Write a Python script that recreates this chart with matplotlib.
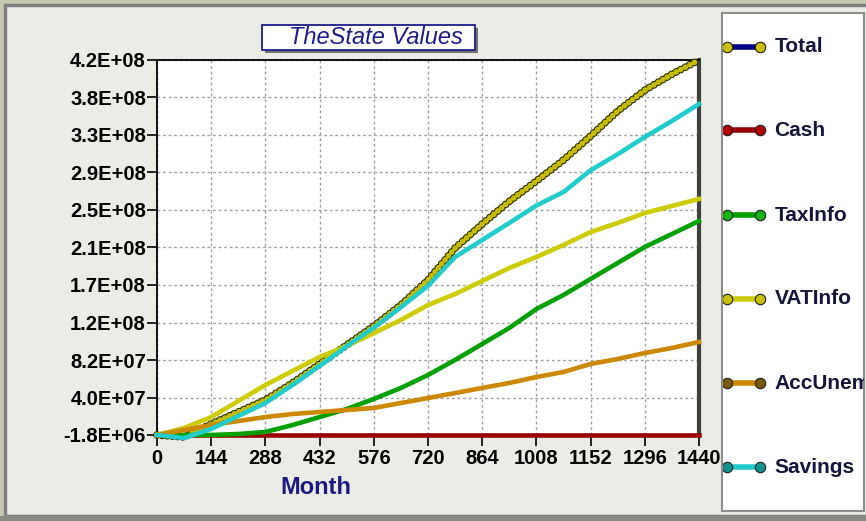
import numpy as np
import matplotlib
matplotlib.use('Agg')
import matplotlib.pyplot as plt
from matplotlib.patches import Rectangle

plt.rcParams['font.family'] = ['Liberation Sans', 'DejaVu Sans']
plt.rcParams['lines.scale_dashes'] = False

# data, values in millions
months = [0, 72, 144, 216, 288, 360, 432, 504, 576, 648, 720,
          792, 864, 936, 1008, 1080, 1152, 1224, 1296, 1368, 1440]
total = [-1.8, -4.0, 10.6, 24.1, 37.6, 56.7, 78.1, 99.4, 120.8, 144.4, 172.5,
         208.5, 235.5, 261.0, 283.9, 307.5, 334.5, 362.6, 386.0, 404.0, 420.0]
cash = [-1.8, -1.8, -1.8, -1.8, -1.8, -1.8, -1.8, -1.8, -1.8, -1.8, -1.8,
        -1.8, -1.8, -1.8, -1.8, -1.8, -1.8, -1.8, -1.8, -1.8, -1.8]
taxinfo = [-1.8, -1.8, -1.8, -0.7, 1.6, 9.4, 18.4, 27.4, 38.7, 51.1, 65.7,
           82.6, 100.6, 118.6, 139.9, 155.7, 173.7, 191.7, 209.7, 224.3, 238.9]
vatinfo = [-1.8, 6.1, 18.4, 36.4, 54.4, 70.2, 85.9, 98.3, 112.9, 127.6, 144.4,
           156.8, 171.4, 186.0, 198.4, 211.9, 226.5, 236.7, 247.9, 255.8, 263.7]
accunem = [-1.8, 3.8, 9.4, 13.9, 18.4, 21.8, 24.1, 26.3, 28.6, 34.2, 39.8,
           45.4, 51.1, 56.7, 63.4, 69.1, 78.1, 83.7, 90.4, 96.1, 102.8]
savings = [-1.8, -5.2, 5.0, 19.6, 34.2, 54.4, 76.0, 98.0, 119.0, 142.0, 166.0,
           198.4, 217.5, 236.7, 256.4, 271.5, 296.0, 314.0, 333.4, 351.4, 370.5]

series_names = ['Total', 'Cash', 'TaxInfo', 'VATInfo', 'AccUnem', 'Savings']
line_colors = ['#000080', '#9a0000', '#00a000', '#cccc00', '#cc8800', '#22cccc']
marker_colors = ['#c8c000', '#b00000', '#10b010', '#c8c000', '#7a5a00', '#109090']

x_ticks = [0, 144, 288, 432, 576, 720, 864, 1008, 1152, 1296, 1440]
y_labels = ['-1.8E+06', '4.0E+07', '8.2E+07', '1.2E+08', '1.7E+08', '2.1E+08',
            '2.5E+08', '2.9E+08', '3.3E+08', '3.8E+08', '4.2E+08']

W, H = 866, 521


def fbox(x0, y0, x1, y1):
    return [x0 / W, 1 - y1 / H, (x1 - x0) / W, (y1 - y0) / H]


fig = plt.figure(figsize=(W / 100, H / 100), dpi=100, facecolor='#c9c9b2')
fig.add_artist(Rectangle((5 / W, 1 - 516 / H), 1, 511 / H, transform=fig.transFigure,
                         facecolor='#ececE7', edgecolor='#808080', lw=2.5, zorder=-10))
fig.add_artist(Rectangle((0, 0), 1, 5 / H, transform=fig.transFigure,
                         facecolor='#8a8a82', edgecolor='none', zorder=-10))

# title box with shadow
b = fbox(262, 25, 475, 50)
fig.add_artist(Rectangle((b[0] + 3 / W, b[1] - 3 / H), b[2], b[3], transform=fig.transFigure,
                         facecolor='#707070', edgecolor='none', zorder=5))
fig.add_artist(Rectangle((b[0], b[1]), b[2], b[3], transform=fig.transFigure,
                         facecolor='white', edgecolor='#1c1c8c', lw=1.3, zorder=6))
fig.text(376 / W, 1 - 37 / H, 'TheState Values', ha='center', va='center',
         fontsize=17, style='italic', color='#1c1c8c', zorder=7)

ax = fig.add_axes(fbox(157, 60, 699, 435))
x = np.array(months)
scale = 1e6

# Total drawn as a chain of beads
ax.plot(x, np.array(total) * scale, color='#2a2a00', lw=5.6, ls=(0, (0.01, 3.7)),
        dash_capstyle='round', clip_on=False, zorder=3)
ax.plot(x, np.array(total) * scale, color='#c4bc00', lw=4.1, ls=(0, (0.01, 3.7)),
        dash_capstyle='round', clip_on=False, zorder=3.1)
others = [cash, taxinfo, vatinfo, accunem, savings]
for i, vals in enumerate(others):
    ax.plot(x, np.array(vals) * scale, color=line_colors[i + 1], lw=3.3,
            clip_on=False, zorder=4 + i)

ax.set_xlim(0, 1440)
ax.set_ylim(-1.8e6, 4.2e8)
ax.set_xticks(x_ticks)
ax.set_xticklabels([str(t) for t in x_ticks])
ax.set_yticks(np.linspace(-1.8e6, 4.2e8, 11))
ax.set_yticklabels(y_labels)
ax.tick_params(axis='x', length=8, width=1.2, pad=2, labelsize=14.5)
ax.tick_params(axis='y', length=7, width=1.2, pad=1, labelsize=14.5)
for lab in ax.get_xticklabels() + ax.get_yticklabels():
    lab.set_fontweight('bold')
ax.grid(True, color='#a0a0a0', lw=1, ls=(0, (2, 2)))
ax.set_axisbelow(True)
for s in ['left', 'top', 'bottom']:
    ax.spines[s].set_color('black')
    ax.spines[s].set_linewidth(1.3)
ax.spines['right'].set_color('#404040')
ax.spines['right'].set_linewidth(3)

fig.text(316 / W, 1 - 487 / H, 'Month', ha='center', va='center',
         fontsize=17, fontweight='bold', color='#1a1a80')

# legend box
lax = fig.add_axes(fbox(722, 13, 864, 511))
lax.set_xlim(0, 1)
lax.set_ylim(0, 1)
lax.set_xticks([])
lax.set_yticks([])
for s in lax.spines.values():
    s.set_color('#8c8c8c')
    s.set_linewidth(1.5)
ypos = [0.932, 0.765, 0.594, 0.426, 0.257, 0.088]
for name, lc, mc, yy in zip(series_names, line_colors, marker_colors, ypos):
    lax.plot([0.035, 0.268], [yy, yy], color=lc, lw=4, solid_capstyle='butt')
    lax.plot([0.035, 0.268], [yy, yy], ls='none', marker='o', ms=7.5,
             mfc=mc, mec='#202020', mew=0.8)
    lax.text(0.37, yy, name, va='center', ha='left', fontsize=15,
             fontweight='bold', color='#14143c', clip_on=True)

fig.savefig('out.png', dpi=100, facecolor=fig.get_facecolor())
